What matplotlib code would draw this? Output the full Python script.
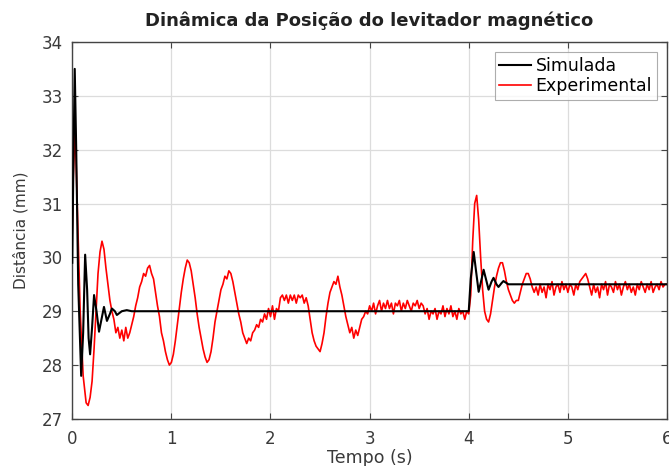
import numpy as np
import matplotlib
matplotlib.use("Agg")
import matplotlib.pyplot as plt

plt.rcParams['font.family'] = ['DejaVu Sans']

# Simulada (resposta simulada)
sim_t = [0.00, 0.01, 0.025, 0.04, 0.06, 0.09, 0.11, 0.13, 0.15, 0.165, 0.18,
         0.20, 0.22, 0.245, 0.27, 0.295, 0.32, 0.35, 0.38, 0.40, 0.43, 0.45,
         0.50, 0.55, 0.60, 4.00, 4.02, 4.05, 4.07, 4.10, 4.13, 4.15, 4.18,
         4.20, 4.23, 4.25, 4.28, 4.30, 4.33, 4.35, 4.40, 6.00]
sim_y = [29.9, 31.5, 33.5, 32.0, 29.5, 27.8, 28.6, 30.05, 29.4, 28.5, 28.2,
         28.7, 29.3, 29.0, 28.62, 28.85, 29.08, 28.82, 28.95, 29.05, 29.0, 28.93,
         29.0, 29.02, 29.0, 29.0, 29.6, 30.1, 29.8, 29.36, 29.6, 29.77, 29.55,
         29.4, 29.55, 29.62, 29.5, 29.45, 29.52, 29.56, 29.5, 29.5]

# Experimental (leitura do sensor)
exp_t_head = [0.00, 0.01, 0.03, 0.05, 0.08, 0.11, 0.14, 0.16, 0.18]
exp_y_head = [30.45, 31.5, 32.4, 31.0, 29.0, 27.8, 27.3, 27.25, 27.4]
exp_y_tail = [
    27.7, 28.3, 29.0, 29.7, 30.1, 30.3, 30.15, 29.8, 29.5, 29.2,
    29.0, 28.85, 28.6, 28.7, 28.5, 28.65, 28.45, 28.7, 28.5, 28.6,
    28.75, 28.9, 29.1, 29.25, 29.45, 29.55, 29.7, 29.65, 29.8, 29.85,
    29.7, 29.6, 29.35, 29.1, 28.9, 28.6, 28.45, 28.25, 28.1, 28.0,
    28.05, 28.2, 28.45, 28.75, 29.05, 29.35, 29.6, 29.8, 29.95, 29.9,
    29.75, 29.5, 29.25, 28.95, 28.7, 28.5, 28.3, 28.15, 28.05, 28.1,
    28.25, 28.5, 28.8, 29.0, 29.2, 29.4, 29.5, 29.65, 29.6, 29.75,
    29.7, 29.55, 29.35, 29.15, 28.95, 28.8, 28.6, 28.5, 28.4, 28.5,
    28.45, 28.6, 28.65, 28.75, 28.7, 28.85, 28.8, 28.95, 28.85, 29.05,
    28.9, 29.1, 28.85, 29.05, 29.0, 29.25, 29.3, 29.2, 29.3, 29.15,
    29.3, 29.2, 29.3, 29.15, 29.3, 29.25, 29.3, 29.15, 29.25, 29.1,
    28.85, 28.6, 28.45, 28.35, 28.3, 28.25, 28.4, 28.6, 28.9, 29.15,
    29.35, 29.45, 29.55, 29.5, 29.65, 29.45, 29.3, 29.1, 28.9, 28.75,
    28.6, 28.7, 28.5, 28.65, 28.55, 28.7, 28.85, 28.9, 29.0, 28.95,
    29.1, 29.0, 29.15, 28.95, 29.1, 29.2, 29.0, 29.15, 29.05, 29.2,
    29.05, 29.15, 28.95, 29.15, 29.1, 29.2, 29.0, 29.15, 29.05, 29.2,
    29.1, 29.0, 29.15, 29.1, 29.2, 29.05, 29.15, 29.1, 28.95, 29.05,
    28.85, 29.0, 28.95, 29.05, 28.85, 29.0, 28.95, 29.1, 28.9, 29.05,
    28.95, 29.1, 28.9, 29.0, 28.85, 29.05, 28.95, 29.0, 28.85, 29.0,
    28.95, 29.3, 30.3, 31.0, 31.15, 30.7, 30.0, 29.4, 29.0, 28.85,
    28.8, 28.95, 29.2, 29.45, 29.65, 29.8, 29.9, 29.9, 29.75, 29.55,
    29.4, 29.3, 29.2, 29.15, 29.2, 29.2, 29.35, 29.5, 29.6, 29.7,
    29.7, 29.6, 29.45, 29.35, 29.45, 29.3, 29.5, 29.35, 29.45, 29.25,
    29.5, 29.4, 29.55, 29.3, 29.45, 29.5, 29.35, 29.55, 29.4, 29.5,
    29.35, 29.5, 29.45, 29.3, 29.5, 29.4, 29.55, 29.6, 29.65, 29.7,
    29.6, 29.45, 29.3, 29.5, 29.35, 29.45, 29.25, 29.5, 29.4, 29.55,
    29.3, 29.5, 29.45, 29.35, 29.55, 29.4, 29.5, 29.3, 29.45, 29.55,
    29.4, 29.5, 29.35, 29.45, 29.3, 29.5, 29.4, 29.55, 29.45, 29.35,
    29.5, 29.4, 29.55, 29.35, 29.45, 29.5, 29.4, 29.55, 29.45, 29.5,
    29.5]

exp_t = exp_t_head + list(np.linspace(0.2, 6.0, len(exp_y_tail)))
exp_y = exp_y_head + exp_y_tail

fig = plt.figure(figsize=(6.69, 4.66), dpi=100)
ax = fig.add_axes([0.108, 0.101, 0.889, 0.809])

ax.plot(sim_t, sim_y, color='black', linewidth=1.5, label='Simulada', zorder=3)
ax.plot(exp_t, exp_y, color='red', linewidth=1.2, label='Experimental', zorder=2)

ax.set_xlim(0, 6)
ax.set_ylim(27, 34)
ax.set_xticks(range(0, 7))
ax.set_yticks(range(27, 35))

ax.grid(True, color='#dcdcdc', linewidth=0.9)
ax.set_axisbelow(True)
for s in ax.spines.values():
    s.set_color('#444444')
    s.set_linewidth(1.0)
ax.tick_params(direction='in', top=True, right=True, length=4,
               colors='#444444', labelsize=12, labelcolor='#3a3a3a')
ax.tick_params(axis='y', pad=7)
ax.tick_params(axis='x', pad=8)

fig.text(0.108 + 0.889 / 2, 0.955, 'Dinâmica da Posição do levitador magnético',
         fontsize=13, fontweight='bold', color='#222222',
         ha='center', va='center')
ax.set_xlabel('Tempo (s)', fontsize=12.5, color='#3a3a3a', labelpad=1)
ax.set_ylabel('Distância (mm)', fontsize=11, color='#3a3a3a', labelpad=9)

leg = ax.legend(loc='upper right', fontsize=12.5, frameon=True, fancybox=False,
                edgecolor='#999999', handlelength=1.8, borderpad=0.25,
                labelspacing=0.15, borderaxespad=0.6, handletextpad=0.3)
leg.get_frame().set_linewidth(0.8)

fig.savefig('out.png', dpi=100)
